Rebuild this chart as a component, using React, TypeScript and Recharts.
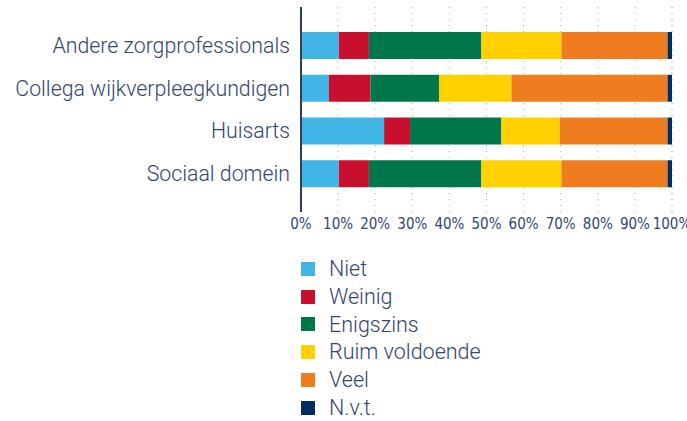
import React from "react";
import { BarChart, Bar, XAxis, YAxis, CartesianGrid } from "recharts";

const categories = ["Andere zorgprofessionals", "Collega wijkverpleegkundigen", "Huisarts", "Sociaal domein"];
const seriesNames = ["Niet", "Weinig", "Enigszins", "Ruim voldoende", "Veel", "N.v.t."];
const seriesColors = ["#41b6e6", "#c8102e", "#00774a", "#ffd100", "#ef7d1f", "#002d62"];
const niet = [10.2, 7.5, 22.4, 10.2];
const weinig = [8.1, 11.2, 7.0, 8.1];
const enigszins = [30.3, 18.5, 24.6, 30.3];
const ruimVoldoende = [21.6, 19.5, 15.7, 21.6];
const veel = [28.6, 42.1, 29.1, 28.6];
const nvt = [1.2, 1.2, 1.2, 1.2];
const xTicks = [0, 10, 20, 30, 40, 50, 60, 70, 80, 90, 100];

const seriesValues = [niet, weinig, enigszins, ruimVoldoende, veel, nvt];
const data = categories.map((c, i) => {
  const row: Record<string, string | number> = { name: c };
  seriesNames.forEach((s, j) => {
    row[s] = seriesValues[j][i];
  });
  return row;
});

const textColor = "#33456f";
const font = "Roboto, 'Noto Sans', sans-serif";

export default function App() {
  return (
    <div style={{ position: "relative", width: 687, height: 421, fontFamily: font }}>
      <style>{`body{margin:0}`}</style>
      <BarChart
        width={687}
        height={240}
        data={data}
        layout="vertical"
        margin={{ top: 7, right: 15, bottom: 8, left: 0 }}
        barSize={27}
      >
        <CartesianGrid horizontal={false} vertical={true} stroke="#aab0c6" strokeDasharray="1 5" />
        <XAxis
          type="number"
          domain={[0, 100]}
          ticks={xTicks}
          tickFormatter={(v: number) => `${v}%`}
          axisLine={false}
          tickLine={false}
          height={20}
          tickSize={0}
          tickMargin={6}
          interval={0}
          tick={{ fill: textColor, fontSize: 15, fontFamily: "'Liberation Sans Narrow', 'DejaVu Sans Condensed', sans-serif" }}
        />
        <YAxis
          type="category"
          dataKey="name"
          width={301}
          axisLine={{ stroke: "#2d3c5f", strokeWidth: 2 }}
          tickLine={false}
          tickSize={0}
          tickMargin={11}
          padding={{ top: 17, bottom: 17 }}
          tick={{ fill: textColor, fontSize: 21.3, fontWeight: 300, fontFamily: font }}
        />
        {seriesNames.map((s, j) => (
          <Bar key={s} dataKey={s} stackId="a" fill={seriesColors[j]} isAnimationActive={false} />
        ))}
      </BarChart>
      <div style={{ position: "absolute", left: 301, top: 255 }}>
        {seriesNames.map((s, j) => (
          <div key={s} style={{ display: "flex", alignItems: "center", height: 27.8 }}>
            <div style={{ width: 14, height: 14, background: seriesColors[j], marginRight: 14 }} />
            <span style={{ color: textColor, fontSize: 21.5, fontWeight: 300, fontFamily: font, lineHeight: "27.8px" }}>{s}</span>
          </div>
        ))}
      </div>
    </div>
  );
}
